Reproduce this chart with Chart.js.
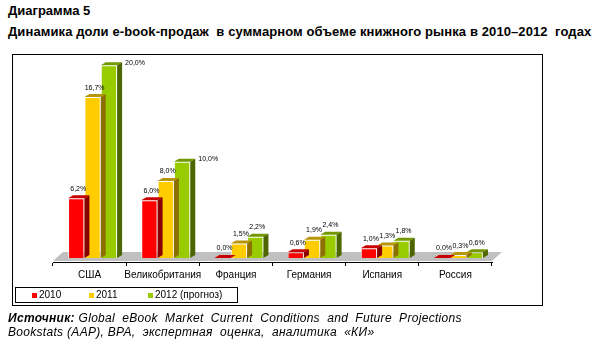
<!DOCTYPE html>
<html>
<head>
<meta charset="utf-8">
<script src="https://cdn.jsdelivr.net/npm/chart.js@4/dist/chart.umd.min.js"></script>
<style>
  body { margin: 0; background: #fff; font-family: "Liberation Sans", Arial, sans-serif; }
  #wrap { position: relative; width: 600px; height: 349px; overflow: hidden; }
  .t { position: absolute; white-space: pre; color: #000; }
  #t1 { left: 8px; top: 3px; font-size: 13px; font-weight: bold; }
  #t2 { left: 8px; top: 24px; font-size: 13px; font-weight: bold; letter-spacing: 0.1px; }
  #box { position: absolute; left: 12px; top: 54px; width: 529px; height: 250px; border: 1px solid #000; }
  #legend { position: absolute; left: 15px; top: 287px; width: 221px; height: 14px; border: 1px solid #000; font-size: 10px; }
  #legend span.sq { position: absolute; top: 5px; width: 5px; height: 5px; }
  #legend span.lb { position: absolute; top: 1px; }
  #src { left: 8px; top: 311px; font-size: 12px; font-style: italic; line-height: 14px; letter-spacing: 0.3px; }
  canvas { position: absolute; left: 0; top: 0; }
</style>
</head>
<body>
<div id="wrap">
  <div class="t" id="t1">Диаграмма 5</div>
  <div class="t" id="t2">Динамика доли e-book-продаж  в суммарном объеме книжного рынка в 2010–2012  годах</div>
  <div id="box"></div>
  <canvas id="c" width="600" height="349"></canvas>
  <div id="legend"></div>
  <div class="t" id="src"><b>Источник:</b> Global  eBook  Market  Current  Conditions  and  Future  Projections
Bookstats (AAP), BPA,  экспертная  оценка,  аналитика  «КИ»</div>
</div>
<script>
const countries = ["США", "Великобритания", "Франция", "Германия", "Испания", "Россия"];
const seriesNames = ["2010", "2011", "2012 (прогноз)"];
const share2010 = [6.2, 6.0, 0.0, 0.6, 1.0, 0.0];
const share2011 = [16.7, 8.0, 1.5, 1.9, 1.3, 0.3];
const share2012 = [20.0, 10.0, 2.2, 2.4, 1.8, 0.6];

const front = ["#ff0000", "#ffcc00", "#99cc00"];
const topc = ["#c80000", "#b8960a", "#739900"];
const side = ["#8a0000", "#8c7000", "#4d6600"];

// legend
const legend = document.getElementById("legend");
const legX = [16, 73, 132];
seriesNames.forEach((n, i) => {
  const s = document.createElement("span");
  s.className = "sq"; s.style.left = legX[i] + "px"; s.style.background = front[i];
  const l = document.createElement("span");
  l.className = "lb"; l.style.left = (legX[i] + 7) + "px"; l.textContent = n;
  legend.appendChild(s); legend.appendChild(l);
});

const DX = 5, DY = 3;     // bar depth
const SHX = 3, SHY = -4;  // bars sit back on the floor

const bars3d = {
  id: "bars3d",
  beforeDatasetsDraw(chart) {
    const { ctx, chartArea: a } = chart;
    ctx.save();
    ctx.fillStyle = "#c0c0c0";
    ctx.beginPath();
    ctx.moveTo(a.left, a.bottom - 1);
    ctx.lineTo(a.right, a.bottom - 1);
    ctx.lineTo(a.right + 10, a.bottom - 10);
    ctx.lineTo(a.left + 10, a.bottom - 10);
    ctx.closePath();
    ctx.fill();
    ctx.restore();
  },
  beforeDatasetDraw(chart) {
    chart.ctx.save();
    chart.ctx.translate(SHX, SHY);
  },
  afterDatasetDraw(chart, args) {
    const ctx = chart.ctx;
    const i = args.index;
    chart.getDatasetMeta(i).data.forEach(b => {
      const l = b.x - b.width / 2, r = b.x + b.width / 2, t = b.y, bot = b.base;
      ctx.fillStyle = topc[i];
      ctx.beginPath();
      ctx.moveTo(l, t); ctx.lineTo(r, t); ctx.lineTo(r + DX, t - DY); ctx.lineTo(l + DX, t - DY);
      ctx.closePath(); ctx.fill();
      ctx.fillStyle = side[i];
      ctx.beginPath();
      ctx.moveTo(r, t); ctx.lineTo(r + DX, t - DY); ctx.lineTo(r + DX, bot - DY); ctx.lineTo(r, bot);
      ctx.closePath(); ctx.fill();
    });
    ctx.restore();
  },
  afterDatasetsDraw(chart) {
    const ctx = chart.ctx;
    ctx.save();
    ctx.font = "7px 'Liberation Sans', Arial, sans-serif";
    ctx.fillStyle = "#000";
    ctx.textBaseline = "bottom";
    chart.data.datasets.forEach((ds, i) => {
      chart.getDatasetMeta(i).data.forEach((b, j) => {
        const txt = ds.data[j].toFixed(1).replace(".", ",") + "%";
        let x = b.x + SHX + 2, y = b.y + SHY - DY - 3;
        ctx.textAlign = "center";
        if (i === 2 && ds.data[j] >= 10) {
          ctx.textAlign = "left";
          x = b.x + SHX + b.width / 2 + DX + 3;
          y = b.y + SHY + 1;
        }
        ctx.fillText(txt, x, y);
      });
    });
    ctx.restore();
  }
};

new Chart(document.getElementById("c"), {
  type: "bar",
  data: {
    labels: countries,
    datasets: [share2010, share2011, share2012].map((d, i) => ({
      label: seriesNames[i],
      data: d,
      backgroundColor: front[i],
      borderColor: "rgba(255,255,255,0.8)",
      borderWidth: 1,
      categoryPercentage: 0.67,
      barPercentage: 1
    }))
  },
  options: {
    responsive: false,
    animation: false,
    layout: { padding: { left: 53, right: 108, top: 50, bottom: 57 } },
    plugins: { legend: { display: false }, tooltip: { enabled: false } },
    scales: {
      x: {
        offset: true,
        grid: { offset: true, drawOnChartArea: false, drawTicks: true, tickLength: 4, color: "#000" },
        border: { display: true, color: "#000", width: 1 },
        ticks: { color: "#000", padding: 3, maxRotation: 0, minRotation: 0, autoSkip: false,
                 font: { family: "'Liberation Sans', Arial, sans-serif", size: 10 } },
        afterFit: s => { s.height = 30; }
      },
      y: { display: false, min: 0, max: 22 }
    }
  },
  plugins: [bars3d]
});
</script>
</body>
</html>
